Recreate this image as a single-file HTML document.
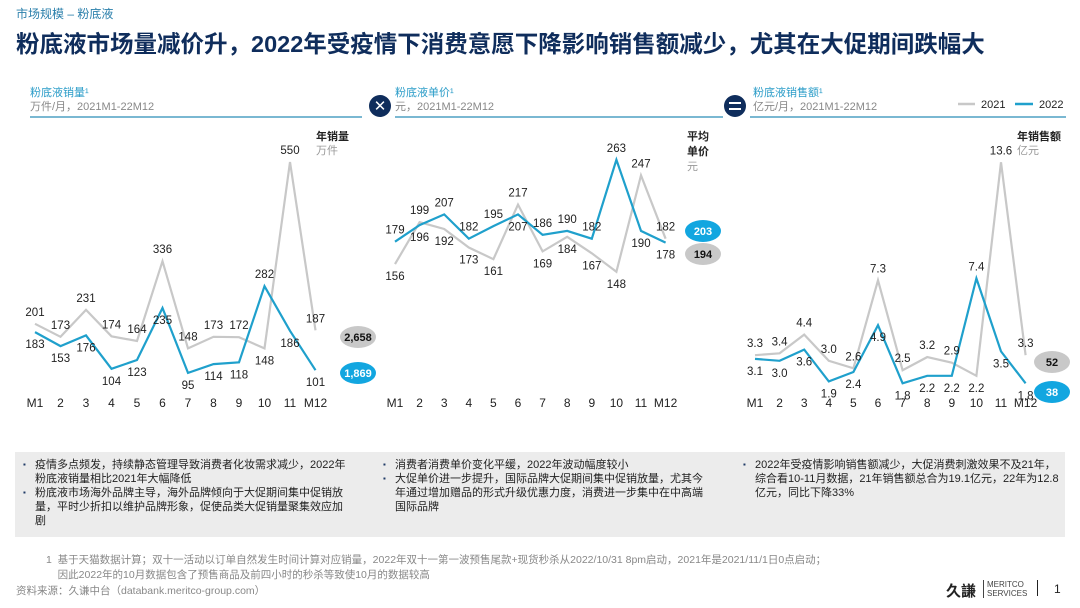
<!DOCTYPE html>
<html><head><meta charset="utf-8">
<style>
body{margin:0;width:1080px;height:608px;background:#fff;font-family:"Liberation Sans","Noto Sans CJK SC",sans-serif;overflow:hidden;position:relative}
.abs{position:absolute;white-space:nowrap}
.box{position:absolute;left:15px;top:452px;width:1050px;height:85px;background:#ececec}
.col{position:absolute;top:6px;font-size:11px;line-height:14px;color:#222}
.col div{position:relative;padding-left:12px}
.col div:before{content:"▪";position:absolute;left:0;color:#1f3a66;font-size:8px}
</style></head><body>
<div class="abs" style="left:16px;top:5px;font-size:12px;color:#2a7fab">市场规模 – 粉底液</div>
<div class="abs" style="left:16px;top:25px;font-size:23.5px;font-weight:bold;color:#0f2d5c">粉底液市场量减价升，2022年受疫情下消费意愿下降影响销售额减少，尤其在大促期间跌幅大</div>

<svg id="chart" width="1080" height="450" style="position:absolute;left:0;top:0">
<g font-family="Liberation Sans, Noto Sans CJK SC, sans-serif">
<text x="30" y="96" font-size="11" fill="#2a9cc8">粉底液销量¹</text>
<text x="30" y="110" font-size="11" fill="#888">万件/月，2021M1-22M12</text>
<line x1="30" y1="117" x2="362" y2="117" stroke="#2a8db8" stroke-width="1.2"/>
<text x="395" y="96" font-size="11" fill="#2a9cc8">粉底液单价¹</text>
<text x="395" y="110" font-size="11" fill="#888">元，2021M1-22M12</text>
<line x1="395" y1="117" x2="723" y2="117" stroke="#2a8db8" stroke-width="1.2"/>
<text x="753" y="96" font-size="11" fill="#2a9cc8">粉底液销售额¹</text>
<text x="753" y="110" font-size="11" fill="#888">亿元/月，2021M1-22M12</text>
<line x1="750" y1="117" x2="1066" y2="117" stroke="#2a8db8" stroke-width="1.2"/>
<circle cx="380" cy="106" r="11" fill="#0f2d5c"/>
<text x="380" y="111" font-size="15" fill="#fff" text-anchor="middle">✕</text>
<circle cx="735" cy="106" r="11" fill="#0f2d5c"/>
<rect x="729" y="102" width="12" height="2" fill="#fff"/><rect x="729" y="108" width="12" height="2" fill="#fff"/>
<g>
<line x1="958" y1="104" x2="975" y2="104" stroke="#c8c8c8" stroke-width="2.5"/>
<text x="981" y="108" font-size="11" fill="#222">2021</text>
<line x1="1015" y1="104" x2="1033" y2="104" stroke="#1fa0cc" stroke-width="2.5"/>
<text x="1039" y="108" font-size="11" fill="#222">2022</text>
</g>
<text x="316" y="140" font-size="11" font-weight="bold" fill="#222">年销量</text>
<text x="316" y="154" font-size="11" fill="#999">万件</text>
<text x="687" y="140" font-size="11" font-weight="bold" fill="#222">平均</text>
<text x="687" y="155" font-size="11" font-weight="bold" fill="#222">单价</text>
<text x="687" y="170" font-size="11" fill="#999">元</text>
<text x="1017" y="140" font-size="11" font-weight="bold" fill="#222">年销售额</text>
<text x="1017" y="154" font-size="11" fill="#999">亿元</text>
</g>
</svg>

<div class="box">
<div class="col" style="left:8px;width:330px"><div>疫情多点频发，持续静态管理导致消费者化妆需求减少，2022年粉底液销量相比2021年大幅降低</div><div>粉底液市场海外品牌主导，海外品牌倾向于大促期间集中促销放量，平时少折扣以维护品牌形象，促使品类大促销量聚集效应加剧</div></div>
<div class="col" style="left:368px;width:330px"><div>消费者消费单价变化平缓，2022年波动幅度较小</div><div>大促单价进一步提升，国际品牌大促期间集中促销放量，尤其今年通过增加赠品的形式升级优惠力度，消费进一步集中在中高端国际品牌</div></div>
<div class="col" style="left:728px;width:320px"><div>2022年受疫情影响销售额减少，大促消费刺激效果不及21年，综合看10-11月数据，21年销售额总合为19.1亿元，22年为12.8亿元，同比下降33%</div></div>
</div>
<div class="abs" style="left:46px;top:553px;font-size:10.5px;color:#888;line-height:15px">1&nbsp;&nbsp;基于天猫数据计算；双十一活动以订单自然发生时间计算对应销量，2022年双十一第一波预售尾款+现货秒杀从2022/10/31 8pm启动，2021年是2021/11/1日0点启动；<br>&nbsp;&nbsp;&nbsp;&nbsp;因此2022年的10月数据包含了预售商品及前四小时的秒杀等致使10月的数据较高</div>
<div class="abs" style="left:16px;top:583px;font-size:10.5px;color:#888">资料来源：久谦中台（databank.meritco-group.com）</div>
<div class="abs" style="left:946px;top:580px;font-size:15px;font-weight:bold;color:#222">久謙</div>
<div class="abs" style="left:983px;top:580px;font-size:8px;line-height:9px;color:#444;border-left:1px solid #444;padding-left:3px">MERITCO<br>SERVICES</div>
<div class="abs" style="left:1037px;top:580px;width:1px;height:16px;background:#222"></div>
<div class="abs" style="left:1054px;top:582px;font-size:12px;color:#222">1</div>

<script>
const months = ["M1","2","3","4","5","6","7","8","9","10","11","M12"];
const vol2021 = [201,173,231,174,164,336,148,173,172,148,550,187];
const vol2022 = [183,153,176,104,123,235,95,114,118,282,186,101];
const price2021 = [156,199,192,173,161,217,169,184,167,148,247,182];
const price2022 = [179,196,207,182,195,207,186,190,182,263,190,178];
const sales2021 = [3.3,3.4,4.4,3.0,2.6,7.3,2.5,3.2,2.9,2.2,13.6,3.3];
const sales2022 = [3.1,3.0,3.6,1.9,2.4,4.9,1.8,2.2,2.2,7.4,3.5,1.8];
const totalLabels = [["2,658","1,869"],["194","203"],["52","38"]];

const svg = document.getElementById('chart');
const NS = "http://www.w3.org/2000/svg";
function mk(tag, attrs){const e=document.createElementNS(NS,tag);for(const k in attrs)e.setAttribute(k,attrs[k]);svg.appendChild(e);return e;}

const panels = [
 {x0:35, step:25.5, zero:417, k:0.4637, a:vol2021, b:vol2022, fmt:v=>String(v), tx:358, ty:[337,373], name:'volume'},
 {x0:395, step:24.6, zero:416, k:0.974, a:price2021, b:price2022, fmt:v=>String(v), tx:703, ty:[254,231], name:'price'},
 {x0:755, step:24.6, zero:417, k:18.73, a:sales2021, b:sales2022, fmt:v=>v.toFixed(1), tx:1052, ty:[362,392], name:'sales'}
];
panels.forEach(function(p, pi){
  const X = i => p.x0 + i*p.step;
  const Y = v => p.zero - v*p.k;
  months.forEach(function(m,i){
    const t = mk('text',{x:X(i), y:407, 'font-size':12, 'text-anchor':'middle', fill:'#222'});
    
    
    t.textContent = m;
  });
  [[p.a,'#c8c8c8','2021'],[p.b,'#1fa0cc','2022']].forEach(function(s){
    const d = s[0].map((v,i)=>(i?'L':'M')+X(i).toFixed(1)+' '+Y(v).toFixed(1)).join(' ');
    const path = mk('path',{d:d, fill:'none', stroke:s[1], 'stroke-width':2.2, 'stroke-linejoin':'miter'});
    
    
  });
  months.forEach(function(m,i){
    const va=p.a[i], vb=p.b[i];
    const aHigh = Y(va) <= Y(vb);
    [[va,aHigh],[vb,!aHigh]].forEach(function(q){
      const y = q[1] ? Y(q[0]) - 8 : Y(q[0]) + 16;
      const t = mk('text',{x:X(i), y:y, 'font-size':11.5, 'text-anchor':'middle', fill:'#222'});
      
      
      t.textContent = p.fmt(q[0]);
    });
  });
  [['#c8c8c8','#111'],['#12a6e0','#fff']].forEach(function(c,j){
    const e = mk('ellipse',{cx:p.tx, cy:p.ty[j], rx:18, ry:11, fill:c[0]});
    
    
    const t = mk('text',{x:p.tx, y:p.ty[j]+4, 'font-size':11, 'font-weight':'bold', 'text-anchor':'middle', fill:c[1]});
    
    
    t.textContent = totalLabels[pi][j];
  });
});
</script>
</body></html>
